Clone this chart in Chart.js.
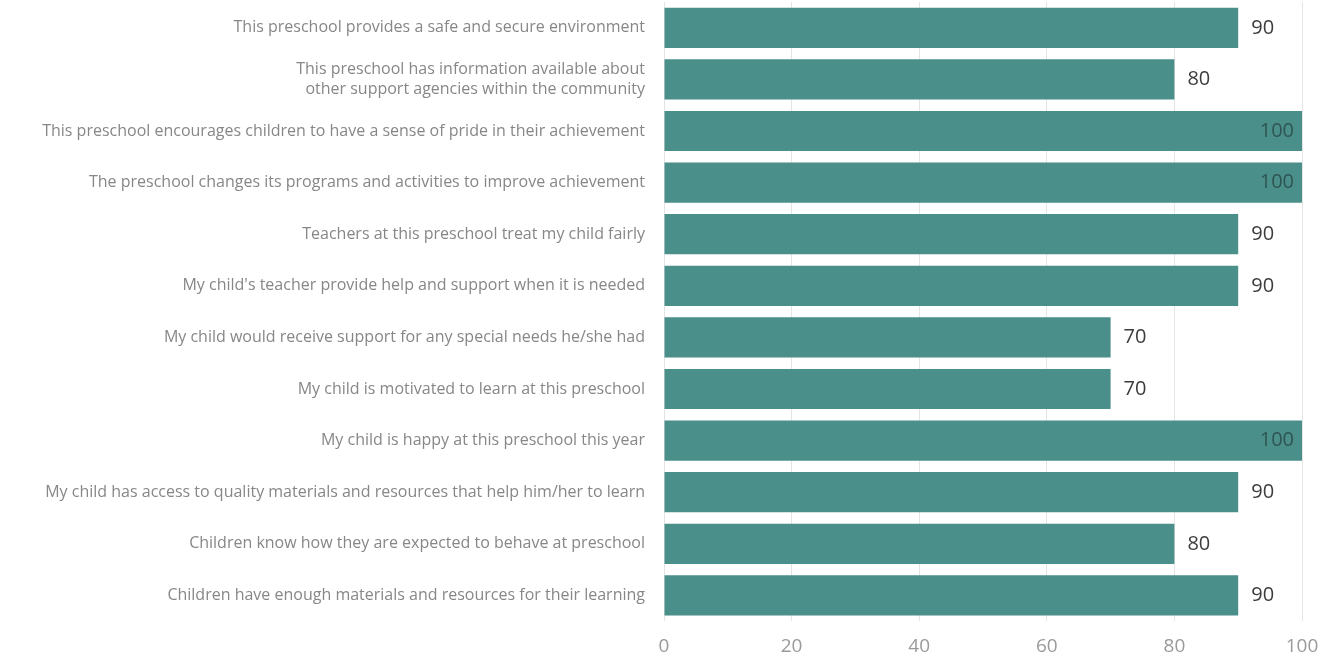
<!DOCTYPE html>
<html>
<head>
<meta charset="utf-8">
<script src="https://cdn.jsdelivr.net/npm/chart.js@4.4.1/dist/chart.umd.min.js"></script>
<style>
  html, body { margin: 0; padding: 0; background: #fff; }
  #wrap { width: 1340px; height: 661px; }
</style>
</head>
<body>
<div id="wrap"><canvas id="myChart"></canvas></div>
<script>
const statements = [
    "This preschool provides a safe and secure environment",
    ["This preschool has information available about", "other support agencies within the community"],
    "This preschool encourages children to have a sense of pride in their achievement",
    "The preschool changes its programs and activities to improve achievement",
    "Teachers at this preschool treat my child fairly",
    "My child's teacher provide help and support when it is needed",
    "My child would receive support for any special needs he/she had",
    "My child is motivated to learn at this preschool",
    "My child is happy at this preschool this year",
    "My child has access to quality materials and resources that help him/her to learn",
    "Children know how they are expected to behave at preschool",
    "Children have enough materials and resources for their learning"
];
const scores = [90, 80, 100, 100, 90, 90, 70, 70, 100, 90, 80, 90];
const xTicks = [0, 20, 40, 60, 80, 100];

// value labels next to (or inside) each bar
const valueLabels = {
    id: 'valueLabels',
    afterDatasetsDraw(chart) {
        const ctx = chart.ctx;
        const meta = chart.getDatasetMeta(0);
        ctx.save();
        ctx.font = '20px "Open Sans", sans-serif';
        ctx.textBaseline = 'middle';
        meta.data.forEach((bar, i) => {
            const v = scores[i];
            if (v >= 100) {
                ctx.fillStyle = '#2f5553';
                ctx.textAlign = 'right';
                ctx.fillText(v, bar.x - 8, bar.y);
            } else {
                ctx.fillStyle = '#3c3c3c';
                ctx.textAlign = 'left';
                ctx.fillText(v, bar.x + 13, bar.y);
            }
        });
        ctx.restore();
    }
};

const config = {
    type: 'bar',
    data: {
        labels: statements,
        datasets: [{
            data: scores,
            backgroundColor: '#4b8f8b',
            borderWidth: 0,
            categoryPercentage: 0.78,
            barPercentage: 1.0
        }]
    },
    options: {
        indexAxis: 'y',
        responsive: true,
        maintainAspectRatio: false,
        animation: false,
        layout: { padding: { top: 2, right: 38, left: 0, bottom: -11 } },
        plugins: {
            legend: { display: false },
            tooltip: { enabled: false }
        },
        scales: {
            x: {
                min: 0,
                max: 100,
                afterBuildTicks: (scale) => {
                    scale.ticks = xTicks.map(v => ({ value: v }));
                },
                grid: { color: '#e4e4e4', drawTicks: false },
                border: { display: false },
                ticks: {
                    color: '#9a9a9a',
                    padding: 14,
                    font: { family: '"Open Sans", sans-serif', size: 19 }
                }
            },
            y: {
                grid: { display: false },
                border: { display: false },
                afterFit: (scale) => {
                    scale.width = 664;
                    scale.paddingTop = 0;
                    scale.paddingBottom = 0;
                },
                ticks: {
                    color: '#878787',
                    padding: 11,
                    autoSkip: false,
                    font: { family: '"Open Sans", sans-serif', size: 16 }
                }
            }
        }
    },
    plugins: [valueLabels]
};

new Chart(document.getElementById('myChart'), config);
</script>
</body>
</html>
